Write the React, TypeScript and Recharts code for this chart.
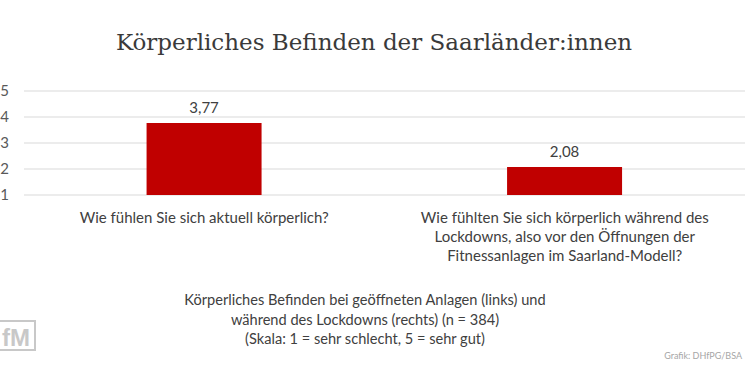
import { Bar, BarChart, CartesianGrid, LabelList, XAxis, YAxis } from "recharts";

const questions = [
  "Wie fühlen Sie sich aktuell körperlich?",
  "Wie fühlten Sie sich körperlich während des|Lockdowns, also vor den Öffnungen der|Fitnessanlagen im Saarland-Modell?",
];
const ratings = [3.77, 2.08];
const scaleTicks = [1, 2, 3, 4, 5];
const captionLines = [
  "Körperliches Befinden bei geöffneten Anlagen (links) und",
  "während des Lockdowns (rechts) (n = 384)",
  "(Skala: 1 = sehr schlecht, 5 = sehr gut)",
];

const chartData = questions.map((q, i) => ({ question: q, rating: ratings[i] }));

const BODY_FONT = "Lato, 'Open Sans', sans-serif";
const TEXT = "#404040";

function QuestionTick({ x, y, payload }: any) {
  const lines = String(payload.value).split("|");
  return (
    <text x={x} y={y} textAnchor="middle" fill={TEXT} fontSize={15} fontFamily={BODY_FONT}>
      {lines.map((line, i) => (
        <tspan key={i} x={x} dy={i === 0 ? 20 : 19}>
          {line}
        </tspan>
      ))}
    </text>
  );
}

function FmLogo() {
  return (
    <svg width={36} height={34} style={{ position: "absolute", left: 0, top: 319 }}>
      <rect x={0} y={1} width={35} height={2} fill="#c8c8c8" />
      <rect x={0} y={30} width={35} height={2} fill="#c8c8c8" />
      <rect x={34} y={1} width={2} height={31} fill="#c8c8c8" />
      <text x={2} y={27} fontSize={24} fontWeight={700} fill="#c8c8c8" fontFamily="'Liberation Sans Narrow', 'Liberation Sans', sans-serif">
        fM
      </text>
    </svg>
  );
}

export default function App() {
  return (
    <div
      style={{
        position: "absolute",
        left: 0,
        top: 0,
        width: 748,
        height: 390,
        background: "#fff",
        overflow: "hidden",
      }}
    >
      <div
        style={{
          position: "absolute",
          top: 24,
          left: 0,
          width: 748,
          textAlign: "center",
          fontFamily: "'DejaVu Serif', serif",
          fontSize: 23,
          color: "#3a3a3a",
          lineHeight: "36px",
        }}
      >
        Körperliches Befinden der Saarländer:innen
      </div>
      <div style={{ position: "absolute", left: 0, top: 0 }}>
        <BarChart
          width={748}
          height={280}
          data={chartData}
          margin={{ top: 91, right: 3, left: 0, bottom: 25 }}
          barCategoryGap="34%"
        >
          <CartesianGrid vertical={false} stroke="#d9d9d9" />
          <XAxis
            dataKey="question"
            height={60}
            axisLine={false}
            tickLine={false}
            interval={0}
            tick={<QuestionTick />}
          />
          <YAxis
            type="number"
            domain={[1, 5]}
            ticks={scaleTicks}
            interval={0}
            width={24}
            axisLine={false}
            tickLine={false}
            tickSize={0}
            tickMargin={15}
            tick={{ fill: "#595959", fontSize: 15, fontFamily: BODY_FONT }}
          />
          <Bar dataKey="rating" fill="#c00000" isAnimationActive={false}>
            <LabelList
              dataKey="rating"
              position="top"
              offset={10}
              fill={TEXT}
              fontSize={15}
              fontFamily={BODY_FONT}
              formatter={(v: any) => Number(v).toFixed(2).replace(".", ",")}
            />
          </Bar>
        </BarChart>
      </div>
      <div
        style={{
          position: "absolute",
          top: 290,
          left: 0,
          width: 730,
          textAlign: "center",
          fontFamily: BODY_FONT,
          fontSize: 14.6,
          lineHeight: "19.5px",
          color: TEXT,
        }}
      >
        {captionLines.map((line) => (
          <div key={line}>{line}</div>
        ))}
      </div>
      <FmLogo />
      <div
        style={{
          position: "absolute",
          right: 6,
          top: 350,
          fontFamily: BODY_FONT,
          fontSize: 9,
          color: "#a6a6a6",
        }}
      >
        Grafik: DHfPG/BSA
      </div>
    </div>
  );
}
